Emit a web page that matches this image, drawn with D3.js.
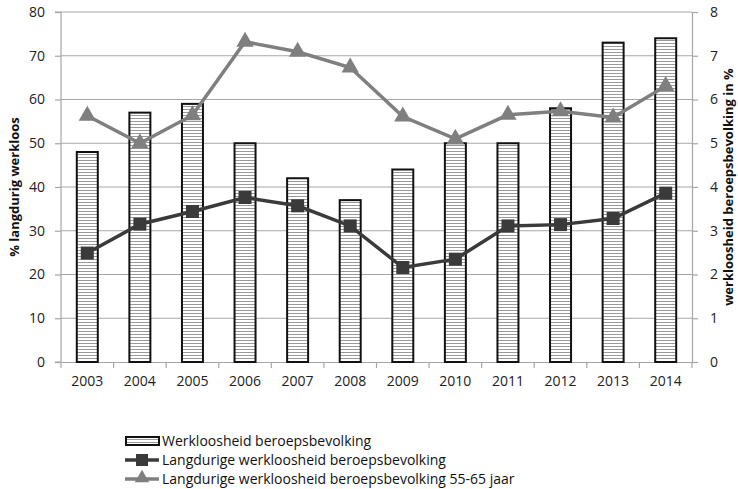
<!DOCTYPE html>
<html>
<head>
<meta charset="utf-8">
<script src="https://cdn.jsdelivr.net/npm/d3@7"></script>
<style>
  body { margin: 0; background: #fff; }
  text { font-family: "Open Sans", "Liberation Sans", sans-serif; }
</style>
</head>
<body>
<div id="chart"></div>
<script>
var years = ["2003","2004","2005","2006","2007","2008","2009","2010","2011","2012","2013","2014"];
var werkloosheid = [4.8, 5.7, 5.9, 5.0, 4.2, 3.7, 4.4, 5.0, 5.0, 5.8, 7.3, 7.4];
var langdurig = [24.9, 31.5, 34.4, 37.6, 35.7, 31.1, 21.6, 23.5, 31.1, 31.4, 32.8, 38.6];
var langdurig5565 = [56.3, 50.0, 56.4, 73.2, 70.9, 67.3, 56.1, 51.0, 56.5, 57.3, 55.9, 63.1];
var leftTicks = [0, 10, 20, 30, 40, 50, 60, 70, 80];
var rightTicks = [0, 1, 2, 3, 4, 5, 6, 7, 8];
var legendLabels = ["Werkloosheid beroepsbevolking", "Langdurige werkloosheid beroepsbevolking", "Langdurige werkloosheid beroepsbevolking 55-65 jaar"];

var svgWidth = 738, svgHeight = 489;
var margin = {top: 12, right: 46, bottom: 127, left: 61};
var chartWidth = svgWidth - margin.left - margin.right;
var chartHeight = svgHeight - margin.top - margin.bottom;

var svg = d3.select("#chart").append("svg")
  .attr("width", svgWidth)
  .attr("height", svgHeight);

// stripe pattern for the bars
var pattern = svg.append("defs").append("pattern")
  .attr("id", "stripes")
  .attr("patternUnits", "userSpaceOnUse")
  .attr("width", 6).attr("height", 3);
pattern.append("rect").attr("width", 6).attr("height", 3).attr("fill", "#fff");
pattern.append("rect").attr("y", 1).attr("width", 6).attr("height", 1).attr("fill", "#9a9a9a");

var g = svg.append("g").attr("transform", `translate(${margin.left}, ${margin.top})`);

var x = d3.scaleBand().domain(years).range([0, chartWidth]);
var yLeft = d3.scaleLinear().domain([0, 80]).range([chartHeight, 0]);
var yRight = d3.scaleLinear().domain([0, 8]).range([chartHeight, 0]);

// gridlines
g.append("g").selectAll("line")
  .data(leftTicks.slice(1))
  .enter().append("line")
  .attr("x1", 0).attr("x2", chartWidth)
  .attr("y1", d => yLeft(d)).attr("y2", d => yLeft(d))
  .attr("stroke", "#a6a6a6").attr("stroke-width", 1.2);

// left axis
var leftAxis = g.append("g")
  .call(d3.axisLeft(yLeft).tickValues(leftTicks).tickSize(6).tickPadding(10));
leftAxis.selectAll("line, path").attr("stroke", "#a6a6a6").attr("stroke-width", 1.2);
leftAxis.selectAll("text").attr("font-size", 14).attr("fill", "#222");
leftAxis.select(".domain").attr("d", `M-6,0H0V${chartHeight}H-6`);

// right axis
var rightAxis = g.append("g")
  .attr("transform", `translate(${chartWidth}, 0)`)
  .call(d3.axisRight(yRight).tickValues(rightTicks).tickSize(6).tickPadding(12));
rightAxis.selectAll("line, path").attr("stroke", "#a6a6a6").attr("stroke-width", 1.2);
rightAxis.selectAll("text").attr("font-size", 14).attr("fill", "#222");

// bottom axis
var bottomAxis = g.append("g")
  .attr("transform", `translate(0, ${chartHeight})`)
  .call(d3.axisBottom(x).tickSize(0).tickPadding(14));
bottomAxis.select(".domain").attr("stroke", "#a6a6a6").attr("stroke-width", 1.2);
bottomAxis.selectAll("text").attr("font-size", 14).attr("fill", "#222");
bottomAxis.append("g").selectAll("line")
  .data(years.concat(["end"]))
  .enter().append("line")
  .attr("x1", (d, i) => i * x.step()).attr("x2", (d, i) => i * x.step())
  .attr("y1", 0).attr("y2", 6)
  .attr("stroke", "#a6a6a6").attr("stroke-width", 1.2);

// bars
var barW = 21;
g.append("g").selectAll("rect")
  .data(werkloosheid)
  .enter().append("rect")
  .attr("x", (d, i) => x(years[i]) + x.bandwidth() / 2 - barW / 2)
  .attr("y", d => yRight(d))
  .attr("width", barW)
  .attr("height", d => chartHeight - yRight(d))
  .attr("fill", "url(#stripes)")
  .attr("stroke", "#111").attr("stroke-width", 2);

var cx = (d, i) => x(years[i]) + x.bandwidth() / 2;

// 55-65 line
g.append("path")
  .datum(langdurig5565)
  .attr("fill", "none").attr("stroke", "#7f7f7f").attr("stroke-width", 3.5)
  .attr("d", d3.line().x(cx).y(d => yLeft(d)));
g.append("g").selectAll("path")
  .data(langdurig5565)
  .enter().append("path")
  .attr("d", d3.symbol().type(d3.symbolTriangle).size(130))
  .attr("transform", (d, i) => `translate(${cx(d, i)}, ${yLeft(d)})`)
  .attr("fill", "#7f7f7f");

// long-term line
g.append("path")
  .datum(langdurig)
  .attr("fill", "none").attr("stroke", "#3a3a3a").attr("stroke-width", 3.5)
  .attr("d", d3.line().x(cx).y(d => yLeft(d)));
g.append("g").selectAll("rect")
  .data(langdurig)
  .enter().append("rect")
  .attr("x", (d, i) => cx(d, i) - 6.5)
  .attr("y", d => yLeft(d) - 6.5)
  .attr("width", 13).attr("height", 13)
  .attr("fill", "#3a3a3a");

// axis titles
svg.append("text")
  .attr("transform", `translate(19, ${margin.top + chartHeight / 2}) rotate(-90)`)
  .attr("text-anchor", "middle")
  .attr("font-size", 13).attr("font-weight", "bold").attr("fill", "#111")
  .text("% langdurig werkloos");
svg.append("text")
  .attr("transform", `translate(733, ${margin.top + chartHeight / 2}) rotate(-90)`)
  .attr("text-anchor", "middle")
  .attr("font-size", 13).attr("font-weight", "bold").attr("fill", "#111")
  .text("werkloosheid beroepsbevolking in %");

// legend
var legend = svg.append("g").attr("transform", "translate(125, 441)");
var rowH = 19;
legend.append("rect")
  .attr("x", 1).attr("y", -4).attr("width", 33).attr("height", 8)
  .attr("fill", "url(#stripes)").attr("stroke", "#111").attr("stroke-width", 2);
legend.append("line")
  .attr("x1", 0).attr("x2", 34).attr("y1", rowH).attr("y2", rowH)
  .attr("stroke", "#3a3a3a").attr("stroke-width", 3.5);
legend.append("rect")
  .attr("x", 11).attr("y", rowH - 6).attr("width", 12).attr("height", 12)
  .attr("fill", "#3a3a3a");
legend.append("line")
  .attr("x1", 0).attr("x2", 34).attr("y1", rowH * 2).attr("y2", rowH * 2)
  .attr("stroke", "#7f7f7f").attr("stroke-width", 3.5);
legend.append("path")
  .attr("d", d3.symbol().type(d3.symbolTriangle).size(90))
  .attr("transform", `translate(17, ${rowH * 2 - 1})`)
  .attr("fill", "#7f7f7f");
legend.selectAll(".lbl")
  .data(legendLabels)
  .enter().append("text")
  .attr("class", "lbl")
  .attr("x", 37).attr("y", (d, i) => i * rowH)
  .attr("dy", "0.35em")
  .attr("font-size", 14).attr("fill", "#111")
  .text(d => d);
</script>
</body>
</html>
